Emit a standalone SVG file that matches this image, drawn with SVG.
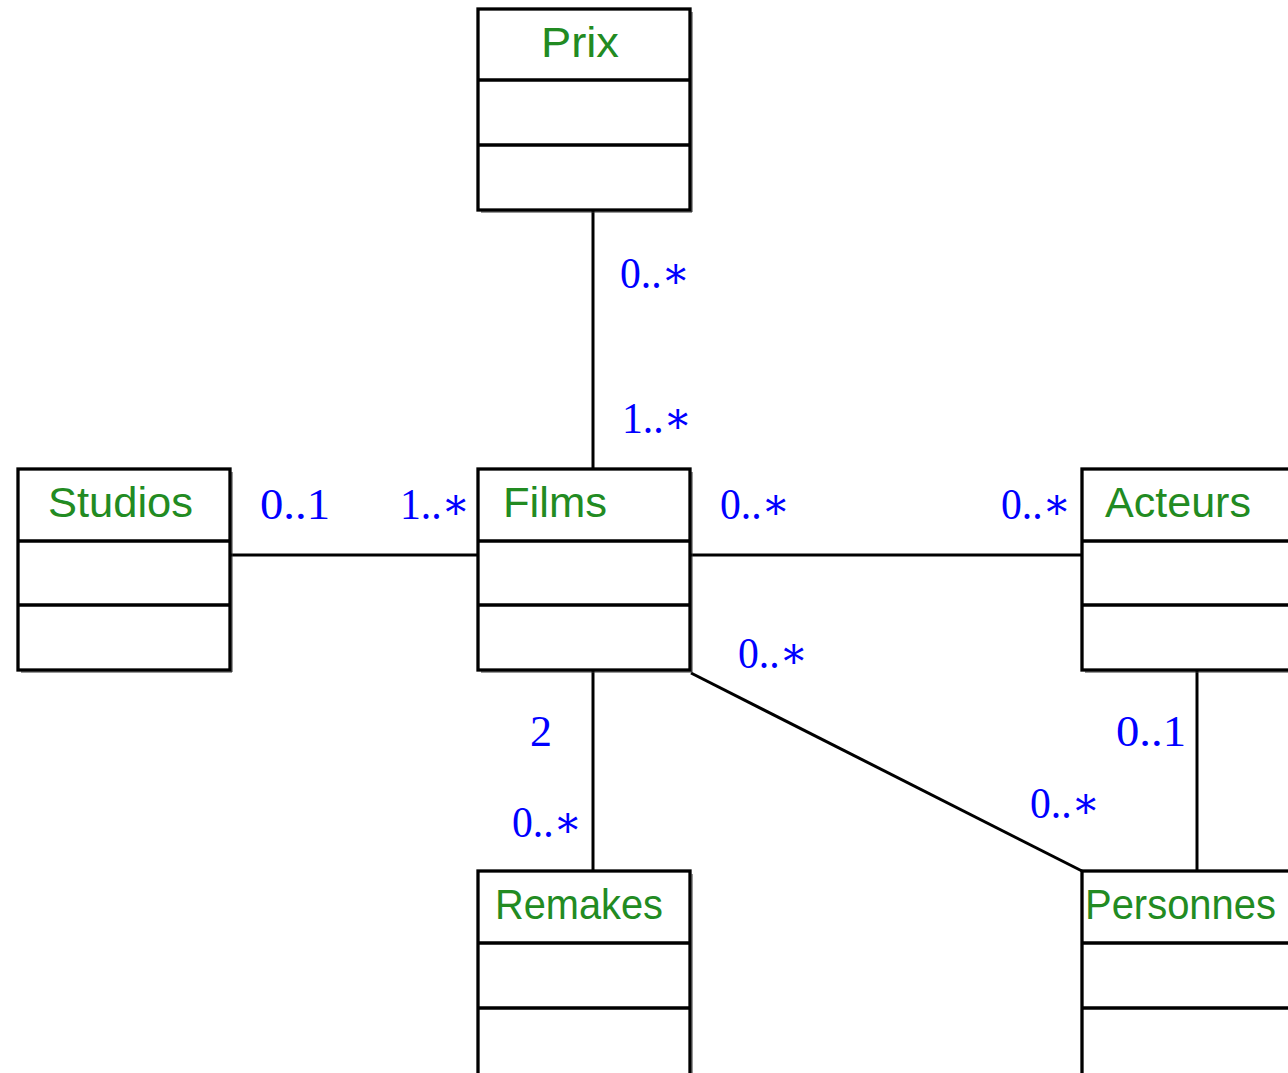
<svg xmlns="http://www.w3.org/2000/svg" width="1288" height="1073" viewBox="0 0 1288 1073">
<style>
.box{fill:#fff;stroke:#000;stroke-width:3.3}
.div{stroke:#000;stroke-width:3.3}
.sh{fill:none;stroke:#333;stroke-width:1}
.name{font-family:"Liberation Sans","DejaVu Sans",sans-serif;font-size:42px;fill:#228B22}
.m{font-family:"Liberation Serif","DejaVu Serif",serif;font-size:44px;fill:#0000ff}
.c{stroke:#000;stroke-width:3;fill:none}
</style>
<rect width="1288" height="1073" fill="#fff"/>
<g id="connectors">
<line class="c" x1="593" y1="211" x2="593" y2="469"/>
<line class="c" x1="231" y1="555" x2="478" y2="555"/>
<line class="c" x1="691" y1="555" x2="1082" y2="555"/>
<line class="c" x1="593" y1="671" x2="593" y2="871"/>
<line class="c" x1="691" y1="673" x2="1082" y2="871"/>
<line class="c" x1="1197" y1="671" x2="1197" y2="871"/>
</g>
<g id="Prix">
<polyline class="sh" points="692,12 692,212 481,212"/>
<rect class="box" x="478" y="9" width="212" height="201"/>
<line class="div" x1="478" y1="80" x2="690" y2="80"/>
<line class="div" x1="478" y1="145" x2="690" y2="145"/>
<text class="name" x="541" y="57" textLength="78" lengthAdjust="spacingAndGlyphs">Prix</text>
</g>
<g id="Studios">
<polyline class="sh" points="232,472 232,672 21,672"/>
<rect class="box" x="18" y="469" width="212" height="201"/>
<line class="div" x1="18" y1="541" x2="230" y2="541"/>
<line class="div" x1="18" y1="605" x2="230" y2="605"/>
<text class="name" x="48" y="517" textLength="145" lengthAdjust="spacingAndGlyphs">Studios</text>
</g>
<g id="Films">
<polyline class="sh" points="692,472 692,672 481,672"/>
<rect class="box" x="478" y="469" width="212" height="201"/>
<line class="div" x1="478" y1="541" x2="690" y2="541"/>
<line class="div" x1="478" y1="605" x2="690" y2="605"/>
<text class="name" x="503" y="517" textLength="104" lengthAdjust="spacingAndGlyphs">Films</text>
</g>
<g id="Acteurs">
<polyline class="sh" points="1085,672 1290,672"/>
<rect class="box" x="1082" y="469" width="220" height="201"/>
<line class="div" x1="1082" y1="541" x2="1302" y2="541"/>
<line class="div" x1="1082" y1="605" x2="1302" y2="605"/>
<text class="name" x="1105" y="517" textLength="146" lengthAdjust="spacingAndGlyphs">Acteurs</text>
</g>
<g id="Remakes">
<rect class="box" x="478" y="871" width="212" height="210"/>
<line class="div" x1="478" y1="943" x2="690" y2="943"/>
<line class="div" x1="478" y1="1008" x2="690" y2="1008"/>
<polyline class="sh" points="692,874 692,1073"/>
<text class="name" x="495" y="919" textLength="168" lengthAdjust="spacingAndGlyphs">Remakes</text>
</g>
<g id="Personnes">
<rect class="box" x="1082" y="871" width="220" height="210"/>
<line class="div" x1="1082" y1="943" x2="1302" y2="943"/>
<line class="div" x1="1082" y1="1008" x2="1302" y2="1008"/>
<text class="name" x="1085" y="919" textLength="191" lengthAdjust="spacingAndGlyphs">Personnes</text>
</g>
<g id="labels">
<text class="m" x="620" y="288" textLength="70" lengthAdjust="spacingAndGlyphs">0..∗</text>
<text class="m" x="622" y="433" textLength="70" lengthAdjust="spacingAndGlyphs">1..∗</text>
<text class="m" x="260" y="519" textLength="70" lengthAdjust="spacingAndGlyphs">0..1</text>
<text class="m" x="400" y="519" textLength="70" lengthAdjust="spacingAndGlyphs">1..∗</text>
<text class="m" x="720" y="519" textLength="70" lengthAdjust="spacingAndGlyphs">0..∗</text>
<text class="m" x="1001" y="519" textLength="70" lengthAdjust="spacingAndGlyphs">0..∗</text>
<text class="m" x="738" y="668" textLength="70" lengthAdjust="spacingAndGlyphs">0..∗</text>
<text class="m" x="530" y="746">2</text>
<text class="m" x="512" y="837" textLength="70" lengthAdjust="spacingAndGlyphs">0..∗</text>
<text class="m" x="1116" y="746" textLength="70" lengthAdjust="spacingAndGlyphs">0..1</text>
<text class="m" x="1030" y="818" textLength="70" lengthAdjust="spacingAndGlyphs">0..∗</text>
</g>
</svg>
